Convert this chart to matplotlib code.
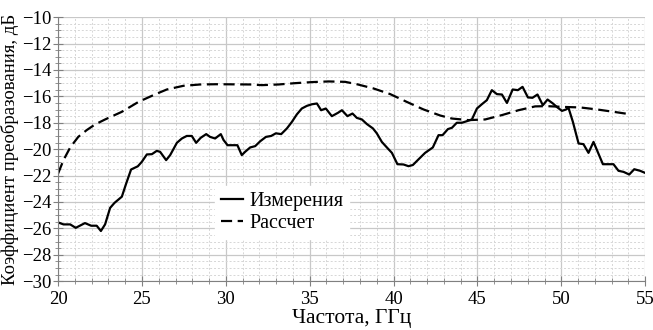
import matplotlib
matplotlib.use("Agg")
import matplotlib.pyplot as plt
from matplotlib.ticker import MultipleLocator

# Measured conversion gain (solid line)
freq_meas = [20.0, 20.32, 20.72, 21.05, 21.6, 21.97, 22.3, 22.55, 22.8, 23.1,
             23.36, 23.8, 24.04, 24.35, 24.75, 24.99, 25.29, 25.59, 25.88, 26.08,
             26.44, 26.68, 27.08, 27.38, 27.67, 27.97, 28.23, 28.5, 28.83, 29.06,
             29.36, 29.7, 29.86, 30.1, 30.45, 30.69, 30.95, 31.15, 31.45, 31.75,
             32.05, 32.39, 32.7, 32.98, 33.3, 33.64, 33.94, 34.23, 34.53, 34.83,
             35.13, 35.43, 35.68, 35.96, 36.32, 36.68, 36.92, 37.25, 37.55, 37.81,
             38.11, 38.41, 38.77, 39.0, 39.3, 39.6, 39.9, 40.23, 40.59, 40.89,
             41.15, 41.48, 41.88, 42.34, 42.68, 42.92, 43.24, 43.48, 43.77, 44.07,
             44.37, 44.67, 44.97, 45.26, 45.56, 45.86, 46.16, 46.46, 46.76, 47.1,
             47.41, 47.69, 48.01, 48.28, 48.58, 48.9, 49.18, 49.5, 49.77, 50.04,
             50.29, 50.43, 50.69, 51.03, 51.32, 51.62, 51.92, 52.48, 53.11, 53.41,
             53.71, 54.05, 54.35, 54.7, 55.0]
gain_meas = [-25.55, -25.7, -25.7, -25.96, -25.6, -25.8, -25.8, -26.2, -25.7, -24.45,
             -24.07, -23.6, -22.67, -21.54, -21.3, -20.96, -20.4, -20.38, -20.13, -20.2,
             -20.83, -20.45, -19.52, -19.19, -19.0, -19.0, -19.52, -19.14, -18.86, -19.07,
             -19.19, -18.86, -19.3, -19.7, -19.7, -19.7, -20.45, -20.2, -19.87, -19.77,
             -19.4, -19.07, -19.0, -18.8, -18.86, -18.43, -17.93, -17.37, -16.92, -16.72,
             -16.6, -16.54, -17.05, -16.92, -17.5, -17.25, -17.05, -17.5, -17.3, -17.63,
             -17.75, -18.1, -18.43, -18.8, -19.45, -19.87, -20.28, -21.14, -21.16, -21.29,
             -21.2, -20.78, -20.28, -19.87, -18.94, -18.94, -18.48, -18.38, -18.0, -18.0,
             -17.88, -17.75, -16.92, -16.6, -16.29, -15.53, -15.83, -15.86, -16.5, -15.48,
             -15.53, -15.28, -16.08, -16.11, -15.86, -16.67, -16.24, -16.54, -16.84, -17.1,
             -16.99, -16.87, -17.93, -19.57, -19.62, -20.28, -19.45, -21.14, -21.14, -21.64,
             -21.72, -21.92, -21.52, -21.64, -21.8]

# Calculated conversion gain (dashed line)
freq_calc = [20.0, 20.32, 20.72, 21.2, 21.7, 22.2, 22.8, 23.8, 24.79, 25.78,
             26.48, 27.47, 28.47, 29.46, 30.45, 31.45, 32.15, 33.14, 34.13, 35.13,
             36.12, 37.11, 37.81, 38.8, 39.8, 40.79, 41.78, 42.78, 43.48, 44.47,
             45.46, 46.46, 47.45, 48.44, 49.14, 50.13, 51.13, 52.12, 53.11, 54.07]
gain_calc = [-21.84, -20.83, -19.87, -19.07, -18.56, -18.13, -17.75, -17.17, -16.42, -15.85,
             -15.48, -15.2, -15.1, -15.08, -15.09, -15.1, -15.15, -15.1, -15.0, -14.92,
             -14.87, -14.9, -15.08, -15.4, -15.83, -16.42, -16.99, -17.45, -17.68, -17.8,
             -17.75, -17.42, -17.05, -16.76, -16.74, -16.8, -16.84, -16.99, -17.17, -17.35]

plt.rcParams['font.family'] = ['Liberation Serif', 'DejaVu Serif']
plt.rcParams['axes.unicode_minus'] = True

fig = plt.figure(figsize=(6.53, 3.30), dpi=100)
ax = fig.add_axes([0.089, 0.148, 0.899, 0.800])

ax.plot(freq_meas, gain_meas, color='black', lw=1.6, label='Измерения')
ax.plot(freq_calc, gain_calc, color='black', lw=1.6, linestyle=(0, (5, 2.5)), label='Рассчет')

ax.set_xlim(20, 55)
ax.set_ylim(-30, -10)
ax.xaxis.set_major_locator(MultipleLocator(5))
ax.xaxis.set_minor_locator(MultipleLocator(1))
ax.yaxis.set_major_locator(MultipleLocator(2))
ax.yaxis.set_minor_locator(MultipleLocator(0.5))

# solid major grid, dotted minor grid
ax.grid(which='major', color='#c8c8c8', lw=0.9, linestyle='-')
ax.grid(which='minor', color='#d6d6d6', lw=0.7, linestyle=(0, (2, 2)))
ax.set_axisbelow(True)

for side in ['top', 'right']:
    ax.spines[side].set_visible(False)
for side in ['left', 'bottom']:
    ax.spines[side].set_color('#808080')

ax.tick_params(which='major', direction='inout', length=7, color='#808080', labelsize=13.5)
ax.tick_params(which='minor', direction='inout', length=4, color='#808080')
ax.tick_params(axis='y', which='major', pad=1.5)

ax.set_xlabel('Частота, ГГц', fontsize=15.5, labelpad=1)
ax.set_ylabel('Коэффициент преобразования, дБ', fontsize=13.5)
ax.yaxis.set_label_coords(-0.066, 0.5)

leg = ax.legend(loc='upper left', bbox_to_anchor=(0.25, 0.4), fontsize=14.5,
                frameon=True, fancybox=False, framealpha=1.0, edgecolor='white',
                handlelength=1.1, handletextpad=0.3, borderpad=0.3, labelspacing=0.15)

fig.savefig('out.png', dpi=100)
